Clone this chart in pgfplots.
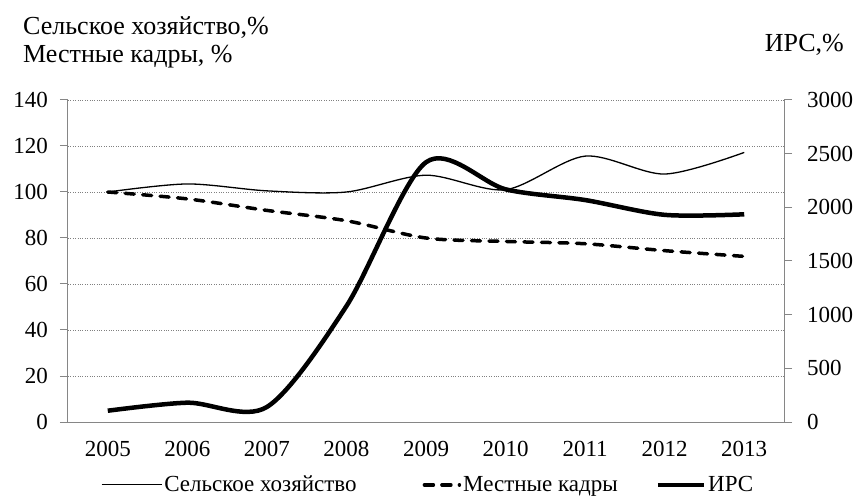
\documentclass[border=0pt]{standalone}
\usepackage{fontspec}
\setmainfont{Liberation Serif}
\usepackage{pgfplots}
\pgfplotsset{compat=1.18}
\definecolor{axgray}{HTML}{868686}
\newcommand{\bigf}{\fontsize{23bp}{27bp}\selectfont}
\newcommand{\titf}{\fontsize{26bp}{30bp}\selectfont}
\pgfplotsset{
  legA/.style={legend image code/.code={\draw[##1] (0bp,0bp)--(60bp,0bp);}},
  legB/.style={legend image code/.code={\draw[##1] (3bp,0bp)--(38bp,0bp);}},
  legC/.style={legend image code/.code={\draw[##1] (0bp,0bp)--(46bp,0bp);}},
}
\begin{document}
\begin{tikzpicture}
\useasboundingbox (-68bp,-80bp) rectangle (789bp,422bp);
\begin{axis}[
  at={(0bp,0bp)}, anchor=south west,
  scale only axis, width=716bp, height=322bp,
  font=\bigf,
  /pgf/number format/assume math mode=true,
  xmin=-0.5, xmax=8.5, ymin=0, ymax=140,
  axis x line*=bottom, axis y line*=left,
  axis line style={-, draw=axgray, line width=1bp},
  every tick/.style={draw=axgray, line width=1bp},
  tick align=outside,
  major tick length=8bp, minor tick length=7bp,
  xtick={0,1,2,3,4,5,6,7,8},
  xticklabels={2005,2006,2007,2008,2009,2010,2011,2012,2013},
  minor xtick={-0.5,0.5,1.5,2.5,3.5,4.5,5.5,6.5,7.5,8.5},
  xtick style={draw=none},
  ytick={0,20,...,140},
  yticklabel style={inner sep=0pt, xshift=-12bp},
  xticklabel style={inner sep=0pt, yshift=-11bp},
  ymajorgrids,
  major grid style={draw=gray, dotted, line width=0.8bp},
  legend columns=3,
  legend style={draw=none, fill=none, at={(0.503,-0.195)}, anchor=center,
    font=\bigf, inner sep=0pt,
    /tikz/column 2/.style={column sep=64bp},
    /tikz/column 4/.style={column sep=36bp}},
  legend cell align=left,
]
\addplot[black, line width=1.3bp, smooth, legA]
  coordinates {(0,100) (1,103.5) (2,100.5) (3,100) (4,107.3) (5,101) (6,115.6) (7,107.8) (8,117.2)};
\addlegendentry{Сельское хозяйство}
\addplot[black, line width=3.5bp, smooth, line cap=round, dash pattern=on 9bp off 8.5bp, legB]
  coordinates {(0,100) (1,97) (2,92) (3,87.5) (4,80) (5,78.5) (6,77.5) (7,74.5) (8,72)};
\addlegendentry{Местные кадры}
\addlegendimage{black, line width=4.5bp, legC}
\addlegendentry{ИРС}
\end{axis}
\begin{axis}[
  at={(0bp,0bp)}, anchor=south west,
  scale only axis, width=716bp, height=322bp,
  font=\bigf,
  /pgf/number format/assume math mode=true,
  /pgf/number format/1000 sep={},
  xmin=-0.5, xmax=8.5, ymin=0, ymax=3000,
  axis x line=none, axis y line*=right,
  axis line style={-, draw=axgray, line width=1bp},
  every tick/.style={draw=axgray, line width=1bp},
  tick align=outside, major tick length=8bp,
  ytick={0,500,...,3000},
  yticklabel style={inner sep=0pt, xshift=15bp, anchor=west},
]
\addplot[black, line width=4.5bp, smooth]
  coordinates {(0,105) (1,180) (2,140) (3,1080) (4,2420) (5,2168) (6,2068) (7,1930) (8,1935)};
\end{axis}
\node[anchor=base west, inner sep=0pt, font=\titf] at (-45bp,387bp) {Сельское хозяйство,\%};
\node[anchor=base west, inner sep=0pt, font=\titf] at (-45bp,359bp) {Местные кадры, \%};
\node[anchor=base east, inner sep=0pt, font=\titf] at (776bp,370bp) {ИРС,\%};
\end{tikzpicture}
\end{document}
